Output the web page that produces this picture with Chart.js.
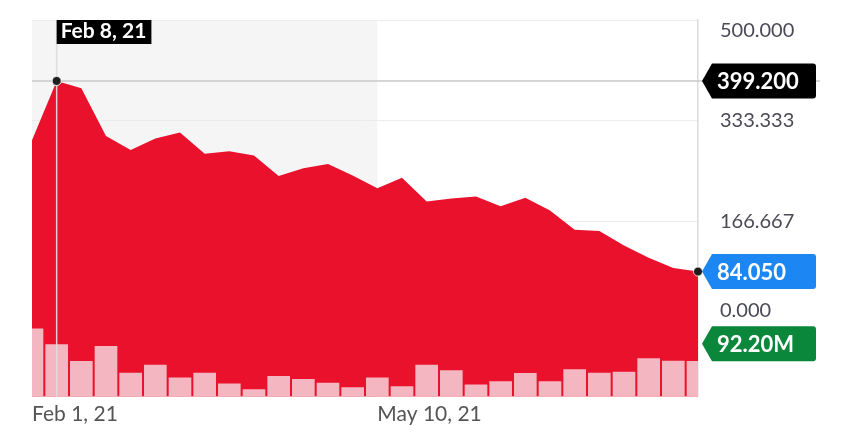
<!DOCTYPE html>
<html>
<head>
<meta charset="utf-8">
<script src="https://cdn.jsdelivr.net/npm/chart.js@4.4.0/dist/chart.umd.min.js"></script>
<style>
  html, body { margin: 0; padding: 0; background: #fff; }
  canvas { display: block; }
</style>
</head>
<body>
<canvas id="chart" width="856" height="441"></canvas>
<script>
// weekly dates
const weeks = [
    'Feb 1, 21', 'Feb 8, 21', 'Feb 15, 21', 'Feb 22, 21',
    'Mar 1, 21', 'Mar 8, 21', 'Mar 15, 21', 'Mar 22, 21', 'Mar 29, 21',
    'Apr 5, 21', 'Apr 12, 21', 'Apr 19, 21', 'Apr 26, 21',
    'May 3, 21', 'May 10, 21', 'May 17, 21', 'May 24, 21', 'May 31, 21',
    'Jun 7, 21', 'Jun 14, 21', 'Jun 21, 21', 'Jun 28, 21',
    'Jul 5, 21', 'Jul 12, 21', 'Jul 19, 21', 'Jul 26, 21',
    'Aug 2, 21', 'Aug 9, 21'
];

// weekly close
const closes = [
    301, 399.2, 387, 308, 285, 304, 314, 279, 283, 276,
    242, 255, 262, 243, 222, 239, 200, 205, 208, 192,
    206, 185, 153, 151, 127, 107, 90, 84.05
];

// weekly volume (millions)
const volumes = [
    176.8, 135.8, 92.2, 131.3, 61.9, 82.8, 49.6, 61.9, 33.9, 19.1,
    53.0, 45.2, 35.8, 24.3, 49.6, 26.9, 82.8, 67.9, 31.3, 39.9,
    60.8, 39.9, 70.5, 61.9, 64.5, 99.2, 93.2, 92.2
];

const priceTicks = [0, 166.667, 333.333, 500];
const xTickLabels = ['Feb 1, 21', 'May 10, 21'];
const shadedRange = ['Feb 1, 21', 'May 10, 21'];
const hoverIndex = 1;

const RED = '#e9112b';
const PINK = '#f4b6c0';
const FONT = 'Lato, "Open Sans", sans-serif';

// petite étiquette en forme de flèche à droite de l'axe
function drawTag(ctx, x, yMid, text, color) {
    const h = 35, tip = 10, w = 104, r = 3;
    const top = yMid - h / 2;
    ctx.save();
    ctx.beginPath();
    ctx.moveTo(x, yMid);
    ctx.lineTo(x + tip, top);
    ctx.lineTo(x + tip + w - r, top);
    ctx.quadraticCurveTo(x + tip + w, top, x + tip + w, top + r);
    ctx.lineTo(x + tip + w, top + h - r);
    ctx.quadraticCurveTo(x + tip + w, top + h, x + tip + w - r, top + h);
    ctx.lineTo(x + tip, top + h);
    ctx.closePath();
    ctx.fillStyle = color;
    ctx.fill();
    ctx.fillStyle = '#fff';
    ctx.font = 'bold 22px ' + FONT;
    ctx.textAlign = 'left';
    ctx.textBaseline = 'middle';
    ctx.fillText(text, x + tip + 5, yMid + 1);
    ctx.restore();
    return { top: top, bottom: top + h };
}

const bandPlugin = {
    id: 'band',
    beforeDraw(chart) {
        const { ctx, chartArea, scales } = chart;
        const x0 = scales.x.getPixelForValue(weeks.indexOf(shadedRange[0]));
        const x1 = scales.x.getPixelForValue(weeks.indexOf(shadedRange[1]));
        ctx.save();
        ctx.fillStyle = '#f5f5f6';
        ctx.fillRect(x0, chartArea.top, x1 - x0, chartArea.bottom - chartArea.top);
        ctx.restore();
    }
};

const overlayPlugin = {
    id: 'overlay',
    afterDatasetsDraw(chart) {
        const { ctx, chartArea, scales } = chart;
        const x = scales.x, y = scales.y, yVol = scales.yVol;
        const hx = x.getPixelForValue(hoverIndex);
        const hy = y.getPixelForValue(closes[hoverIndex]);
        const axisX = chartArea.right;

        ctx.save();
        // crosshair
        ctx.lineWidth = 1.5;
        ctx.strokeStyle = 'rgba(220,220,224,0.95)';
        ctx.beginPath();
        ctx.moveTo(hx, chartArea.top);
        ctx.lineTo(hx, chartArea.bottom);
        ctx.stroke();
        ctx.strokeStyle = '#c8c8c8';
        ctx.beginPath();
        ctx.moveTo(chartArea.left, hy);
        ctx.lineTo(axisX + 122, hy);
        ctx.stroke();
        ctx.restore();

        // redessine le point survolé au-dessus du réticule
        const pt = chart.getDatasetMeta(1).data[hoverIndex];
        if (pt) pt.draw(ctx, chartArea);

        // date label
        ctx.save();
        ctx.font = 'bold 21px ' + FONT;
        const tw = ctx.measureText(weeks[hoverIndex]).width;
        ctx.fillStyle = '#000';
        ctx.fillRect(hx, chartArea.top, tw + 9, 24);
        ctx.fillStyle = '#fff';
        ctx.textBaseline = 'middle';
        ctx.fillText(weeks[hoverIndex], hx + 4, chartArea.top + 11);
        ctx.restore();

        // tags
        const last = closes.length - 1;
        const tagX = axisX + 4;
        drawTag(ctx, tagX, hy, closes[hoverIndex].toFixed(3), '#000');
        drawTag(ctx, tagX, y.getPixelForValue(closes[last]), closes[last].toFixed(3), '#1c87f2');
        const volY = yVol.getPixelForValue(volumes[last]) - 17.5;
        const volTag = drawTag(ctx, tagX, volY, volumes[last].toFixed(2) + 'M', '#0a873b');

        // y tick labels
        ctx.save();
        ctx.font = '20px ' + FONT;
        ctx.fillStyle = '#4a4a56';
        ctx.textAlign = 'left';
        ctx.textBaseline = 'middle';
        priceTicks.forEach(v => {
            let py = y.getPixelForValue(v);
            py = Math.max(py, chartArea.top + 11);
            if (py + 10 > volTag.top) py = volTag.top - 16;
            ctx.fillText(v.toFixed(3), axisX + 22, py);
        });
        ctx.restore();
    }
};

new Chart(document.getElementById('chart'), {
    data: {
        labels: weeks,
        datasets: [
            {
                type: 'bar',
                data: volumes,
                yAxisID: 'yVol',
                backgroundColor: PINK,
                barThickness: 22,
                order: 0
            },
            {
                type: 'line',
                data: closes,
                yAxisID: 'y',
                fill: 'start',
                backgroundColor: RED,
                borderColor: RED,
                borderWidth: 0,
                tension: 0,
                clip: false,
                pointRadius: c => (c.dataIndex === hoverIndex || c.dataIndex === closes.length - 1) ? 4.5 : 0,
                pointBackgroundColor: '#1e1e1e',
                pointBorderColor: 'rgba(255,255,255,0.8)',
                pointBorderWidth: 1,
                order: 1
            }
        ]
    },
    options: {
        responsive: false,
        animation: false,
        devicePixelRatio: 1,
        layout: { padding: { left: 32, top: 20, right: 158, bottom: 9 } },
        plugins: {
            legend: { display: false },
            tooltip: { enabled: false }
        },
        scales: {
            x: {
                type: 'category',
                offset: false,
                grid: { display: false, drawTicks: false, offset: false },
                border: { display: false },
                ticks: {
                    autoSkip: false,
                    maxRotation: 0,
                    align: 'start',
                    padding: 5,
                    color: '#555',
                    font: { family: FONT, size: 21 },
                    callback: (v, i) => xTickLabels.includes(weeks[i]) ? weeks[i] : ''
                }
            },
            y: {
                position: 'right',
                min: -123,
                max: 500,
                afterBuildTicks: axis => { axis.ticks = priceTicks.map(v => ({ value: v })); },
                ticks: { display: false },
                grid: { color: '#ececec', drawTicks: false },
                border: { color: '#dcdcdc', width: 1.5 }
            },
            yVol: {
                display: false,
                min: 0,
                max: 980
            }
        }
    },
    plugins: [bandPlugin, overlayPlugin]
});
</script>
</body>
</html>
